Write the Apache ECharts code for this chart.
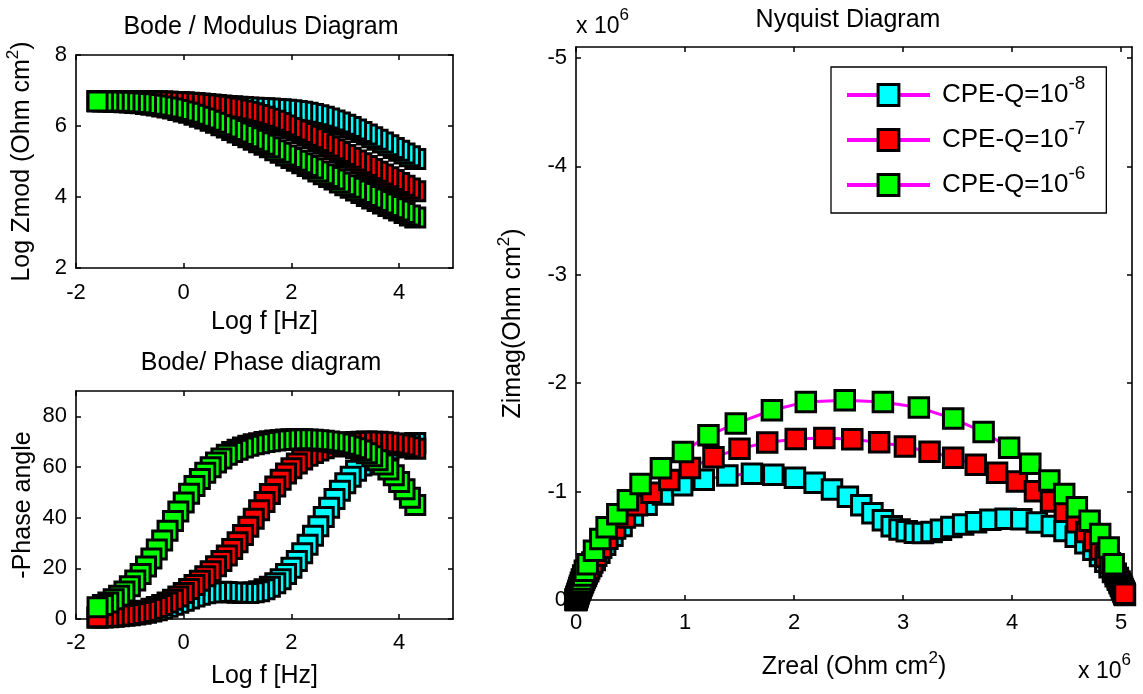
<!DOCTYPE html>
<html><head><meta charset="utf-8">
<script src="https://cdn.jsdelivr.net/npm/echarts@6/dist/echarts.min.js"></script>
<style>html,body{margin:0;padding:0;background:#fff}#c{width:1143px;height:694px}</style>
</head><body><div id="c"></div>
<script>
// ---------- data ----------
const seriesNames = ['CPE-Q=10^-8', 'CPE-Q=10^-7', 'CPE-Q=10^-6'];
const fillColors = ['#00ffff', '#ff0000', '#00ff00'];

const logF = [4.3,4.2,4.1,4.0,3.9,3.8,3.7,3.6,3.5,3.4,3.3,3.2,3.1,3.0,2.9,2.8,2.7,2.6,2.5,2.4,2.3,2.2,2.1,2.0,1.9,1.8,1.7,1.6,1.5,1.4,1.3,1.2,1.1,1.0,0.9,0.8,0.7,0.6,0.5,0.4,0.3,0.2,0.1,0.0,-0.1,-0.2,-0.3,-0.4,-0.5,-0.6,-0.7,-0.8,-0.9,-1.0,-1.1,-1.2,-1.3,-1.4,-1.5,-1.6];

const cyanLogZmod = [5.067,5.146,5.224,5.302,5.380,5.458,5.535,5.611,5.686,5.760,5.833,5.903,5.972,6.038,6.100,6.158,6.212,6.260,6.303,6.341,6.373,6.400,6.423,6.441,6.457,6.470,6.481,6.490,6.499,6.507,6.515,6.523,6.532,6.542,6.553,6.565,6.578,6.592,6.606,6.620,6.633,6.645,6.656,6.665,6.672,6.678,6.683,6.687,6.691,6.693,6.695,6.697,6.698,6.699,6.700,6.700,6.701,6.701,6.702,6.702];
const redLogZmod = [4.164,4.241,4.319,4.397,4.476,4.554,4.633,4.712,4.791,4.870,4.949,5.028,5.107,5.186,5.265,5.343,5.421,5.499,5.576,5.652,5.728,5.802,5.875,5.947,6.016,6.082,6.146,6.205,6.261,6.312,6.358,6.399,6.435,6.468,6.497,6.523,6.547,6.568,6.588,6.606,6.622,6.636,6.649,6.659,6.667,6.674,6.680,6.684,6.688,6.691,6.693,6.695,6.697,6.698,6.699,6.700,6.700,6.701,6.701,6.702];
const greenLogZmod = [3.42,3.48,3.55,3.62,3.68,3.75,3.82,3.89,3.96,4.03,4.11,4.18,4.26,4.33,4.41,4.49,4.56,4.64,4.72,4.80,4.87,4.95,5.02,5.10,5.17,5.25,5.32,5.40,5.47,5.54,5.61,5.68,5.75,5.82,5.89,5.96,6.02,6.09,6.15,6.21,6.26,6.32,6.37,6.41,6.45,6.49,6.52,6.55,6.58,6.60,6.62,6.64,6.65,6.66,6.67,6.68,6.68,6.69,6.69,6.69];

const cyanPhase = [69.5,69.2,68.8,68.3,67.8,67.0,66.1,65.0,63.8,62.3,60.6,58.5,56.2,53.6,50.6,47.4,43.9,40.3,36.6,32.9,29.3,26.0,22.9,20.2,17.8,15.7,14.1,12.7,11.7,11.0,10.6,10.3,10.3,10.4,10.5,10.7,10.8,10.7,10.5,10.2,9.6,8.9,8.1,7.2,6.4,5.6,4.8,4.1,3.5,3.0,2.5,2.1,1.8,1.5,1.3,1.1,0.9,0.7,0.6,0.5];
const redPhase = [67.2,67.8,68.5,68.9,69.3,69.6,69.8,70.0,70.0,70.1,70.0,69.9,69.7,69.4,69.0,68.6,68.1,67.4,66.5,65.5,64.4,63.0,61.4,59.5,57.4,55.0,52.3,49.3,46.2,42.9,39.6,36.4,33.2,30.3,27.6,25.1,22.9,20.8,18.8,16.9,15.1,13.4,11.8,10.3,8.9,7.6,6.5,5.5,4.7,4.0,3.3,2.8,2.3,2.0,1.6,1.4,1.1,0.9,0.8,0.7];
const greenPhase = [45.0,47.9,51.2,54.1,56.7,59.0,61.0,62.7,64.2,65.4,66.5,67.4,68.1,68.8,69.3,69.8,70.1,70.4,70.6,70.8,70.9,71.0,71.0,71.0,70.9,70.7,70.5,70.2,69.9,69.4,69.0,68.4,67.7,66.8,65.9,64.8,63.4,61.8,59.9,57.7,55.3,52.5,49.4,46.0,42.4,38.7,34.8,31.0,27.4,23.9,20.7,17.8,15.2,12.9,10.9,9.2,7.8,6.5,5.5,4.6];

// Nyquist, in units of 1e6 Ohm cm2
const cyanZreal = [0.0409,0.0496,0.0605,0.0740,0.0908,0.1121,0.1386,0.1721,0.2144,0.2675,0.3342,0.4180,0.5215,0.6474,0.7981,0.9737,1.1720,1.3882,1.6138,1.8100,2.0080,2.1890,2.3480,2.4940,2.6170,2.7190,2.8150,2.8960,2.9680,3.0340,3.1080,3.1820,3.2620,3.3480,3.4430,3.5510,3.6700,3.8010,3.9410,4.0850,4.2270,4.3646,4.4809,4.5839,4.6722,4.7459,4.8065,4.8556,4.8947,4.9259,4.9506,4.9704,4.9859,4.9985,5.0084,5.0163,5.0227,5.0279,5.0320,5.0355];
const cyanZimag = [-0.1092,-0.1307,-0.1561,-0.1863,-0.2220,-0.2642,-0.3131,-0.3699,-0.4352,-0.5094,-0.5924,-0.6827,-0.7788,-0.8773,-0.9727,-1.0591,-1.1100,-1.1480,-1.1640,-1.1560,-1.1270,-1.0810,-1.0200,-0.9519,-0.8731,-0.7993,-0.7348,-0.6811,-0.6510,-0.6330,-0.6200,-0.6180,-0.6280,-0.6470,-0.6730,-0.6960,-0.7180,-0.7390,-0.7490,-0.7450,-0.7157,-0.6822,-0.6364,-0.5824,-0.5240,-0.4643,-0.4063,-0.3521,-0.3026,-0.2584,-0.2195,-0.1857,-0.1566,-0.1315,-0.1104,-0.0925,-0.0774,-0.0647,-0.0540,-0.0451];
const redZreal = [0.0057,0.0066,0.0076,0.0090,0.0106,0.0125,0.0148,0.0177,0.0211,0.0253,0.0305,0.0367,0.0445,0.0540,0.0658,0.0803,0.0985,0.1214,0.1498,0.1858,0.2310,0.2879,0.3591,0.4486,0.5591,0.6938,0.8557,1.0453,1.2613,1.5000,1.7539,2.0156,2.2781,2.5343,2.7810,3.0173,3.2432,3.4598,3.6670,3.8623,4.0442,4.2101,4.3572,4.4842,4.5920,4.6809,4.7536,4.8125,4.8595,4.8970,4.9270,4.9509,4.9698,4.9853,4.9974,5.0073,5.0152,5.0216,5.0269,5.0312];
const redZimag = [-0.0134,-0.0161,-0.0194,-0.0233,-0.0280,-0.0336,-0.0404,-0.0484,-0.0581,-0.0697,-0.0836,-0.1002,-0.1200,-0.1437,-0.1717,-0.2050,-0.2444,-0.2910,-0.3454,-0.4086,-0.4815,-0.5648,-0.6587,-0.7618,-0.8731,-0.9894,-1.1060,-1.2168,-1.3157,-1.3958,-1.4531,-1.4851,-1.4935,-1.4814,-1.4540,-1.4149,-1.3668,-1.3112,-1.2474,-1.1745,-1.0928,-1.0037,-0.9092,-0.8130,-0.7180,-0.6273,-0.5431,-0.4667,-0.3984,-0.3384,-0.2863,-0.2415,-0.2031,-0.1703,-0.1427,-0.1194,-0.0998,-0.0834,-0.0696,-0.0580];
const greenZreal = [0.0002,0.0002,0.00025,0.0003,0.0004,0.0005,0.0006,0.0007,0.0009,0.0010,0.0013,0.0015,0.0018,0.0022,0.0026,0.0031,0.0038,0.0046,0.0055,0.0067,0.0080,0.0097,0.0117,0.0141,0.0171,0.0206,0.0249,0.0302,0.0366,0.0445,0.0540,0.0660,0.0810,0.107,0.165,0.223,0.281,0.379,0.476,0.592,0.779,0.981,1.215,1.466,1.797,2.108,2.465,2.815,3.145,3.460,3.739,3.973,4.167,4.342,4.478,4.594,4.711,4.808,4.886,4.932];
const greenZimag = [-0.0008,-0.0010,-0.0012,-0.0014,-0.0016,-0.0019,-0.0024,-0.0028,-0.0034,-0.0040,-0.0049,-0.0059,-0.0070,-0.0084,-0.0100,-0.0120,-0.0150,-0.0180,-0.0210,-0.0250,-0.0310,-0.0370,-0.0440,-0.0530,-0.0630,-0.0760,-0.0910,-0.1100,-0.1310,-0.1580,-0.1890,-0.2260,-0.2700,-0.330,-0.454,-0.562,-0.670,-0.790,-0.920,-1.070,-1.216,-1.364,-1.519,-1.627,-1.750,-1.827,-1.843,-1.827,-1.775,-1.673,-1.549,-1.404,-1.256,-1.102,-0.978,-0.855,-0.731,-0.608,-0.485,-0.330];

// tick labels
const freqTicks = [-2, 0, 2, 4];
const modTicks = [2, 4, 6, 8];
const phaseTicks = [0, 20, 40, 60, 80];
const zrealTicks = [0, 1, 2, 3, 4, 5];
const zimagTicks = [-5, -4, -3, -2, -1, 0];

// ---------- chart ----------
const FONT = "'Liberation Sans', Arial, Helvetica, sans-serif";
const chart = echarts.init(document.getElementById('c'), null, {renderer: 'canvas'});

function supRich(base, lh, sup, slh) {
  return {
    a: {fontSize: base, lineHeight: lh, fontFamily: FONT, color: '#000'},
    s: {fontSize: sup, lineHeight: slh, verticalAlign: 'top', fontFamily: FONT, color: '#000'}
  };
}

function axis(gridIndex, min, max, ticks, position, labelled, extra) {
  const ax = {
    type: 'value', gridIndex, min, max, position,
    axisLine: {show: true, onZero: false, lineStyle: {color: '#000', width: 1.6}},
    axisTick: {show: true, inside: true, length: 5, customValues: ticks, lineStyle: {color: '#000', width: 1.5}},
    axisLabel: {show: labelled, customValues: ticks, color: '#000', fontSize: 22, fontFamily: FONT, lineHeight: 24, margin: 10},
    splitLine: {show: false}
  };
  return Object.assign(ax, extra || {});
}

const nameStyle = {fontSize: 25, color: '#000', fontFamily: FONT, lineHeight: 30, rich: supRich(25, 34, 17, 17)};

const xAxes = [
  axis(0, -2, 5, freqTicks, 'bottom', true, {name: 'Log f [Hz]', nameLocation: 'middle', nameGap: 39, nameTextStyle: nameStyle}),
  axis(0, -2, 5, freqTicks, 'top', false),
  axis(1, -2, 5, freqTicks, 'bottom', true, {name: 'Log f [Hz]', nameLocation: 'middle', nameGap: 42, nameTextStyle: nameStyle}),
  axis(1, -2, 5, freqTicks, 'top', false),
  axis(2, 0, 5.1, zrealTicks, 'bottom', true, {name: '{a|Zreal (Ohm cm}{s|2}{a|)}', nameLocation: 'middle', nameGap: 50, nameTextStyle: nameStyle}),
  axis(2, 0, 5.1, zrealTicks, 'top', false)
];
xAxes[0].axisLabel.margin = 13;
xAxes[2].axisLabel.margin = 12;
xAxes[4].axisLabel.margin = 11;

const yAxes = [
  axis(0, 2, 8, modTicks, 'left', true, {name: '{a|Log Zmod (Ohm cm}{s|2}{a|)}', nameLocation: 'middle', nameGap: 37, nameTextStyle: nameStyle}),
  axis(0, 2, 8, modTicks, 'right', false),
  axis(1, 0, 90, phaseTicks, 'left', true, {name: '-Phase angle', nameLocation: 'middle', nameGap: 38, nameTextStyle: nameStyle}),
  axis(1, 0, 90, phaseTicks, 'right', false),
  axis(2, -5.1, 0, zimagTicks, 'left', true, {inverse: true, name: '{a|Zimag(Ohm cm}{s|2}{a|)}', nameLocation: 'middle', nameGap: 46, nameTextStyle: nameStyle}),
  axis(2, -5.1, 0, zimagTicks, 'right', false, {inverse: true})
];
yAxes.forEach(a => { a.axisLabel.margin = 9; });

function mk(idx, xi, yi, xs, ys, size) {
  return {
    type: 'line', name: seriesNames[idx], xAxisIndex: xi, yAxisIndex: yi,
    data: xs.map((x, i) => [x, ys[i]]),
    symbol: 'rect', symbolSize: size, showSymbol: true, showAllSymbol: true,
    lineStyle: {color: '#ff00ff', width: 3},
    itemStyle: {color: fillColors[idx], borderColor: '#000', borderWidth: 3, opacity: 1},
    emphasis: {disabled: true}, animation: false, clip: false, silent: true
  };
}

const mods = [cyanLogZmod, redLogZmod, greenLogZmod];
const phases = [cyanPhase, redPhase, greenPhase];
const zre = [cyanZreal, redZreal, greenZreal];
const zim = [cyanZimag, redZimag, greenZimag];
const series = [];
for (let k = 0; k < 3; k++) series.push(mk(k, 0, 0, logF, mods[k], 19));
for (let k = 0; k < 3; k++) series.push(mk(k, 2, 2, logF, phases[k], 19));
for (let k = 0; k < 3; k++) series.push(mk(k, 4, 4, zre[k], zim[k], 19.5));

const titleStyle = {fontSize: 25, fontWeight: 'normal', color: '#000', fontFamily: FONT, lineHeight: 30};
const expRich = supRich(23, 40, 17, 17);

const option = {
  backgroundColor: '#fff',
  animation: false,
  title: [
    {text: 'Bode / Modulus Diagram', left: 261, top: 12, textAlign: 'center', padding: 0, textStyle: titleStyle},
    {text: 'Bode/ Phase diagram', left: 261, top: 348, textAlign: 'center', padding: 0, textStyle: titleStyle},
    {text: 'Nyquist Diagram', left: 848, top: 5, textAlign: 'center', padding: 0, textStyle: titleStyle},
    {text: '{a|x 10}{s|6}', left: 576, top: 7, padding: 0, textStyle: {fontSize: 23, fontWeight: 'normal', fontFamily: FONT, rich: expRich}},
    {text: '{a|x 10}{s|6}', left: 1078, top: 652, padding: 0, textStyle: {fontSize: 23, fontWeight: 'normal', fontFamily: FONT, rich: expRich}}
  ],
  legend: {
    data: seriesNames, orient: 'vertical', left: 831, top: 67,
    itemWidth: 83, itemHeight: 26, itemGap: 11,
    padding: [7, 21, 15, 14], borderColor: '#000', borderWidth: 1.3, backgroundColor: '#fff',
    selectedMode: false,
    lineStyle: {width: 4, color: '#ff00ff'},
    itemStyle: {borderWidth: 3, borderColor: '#000'},
    textStyle: {fontSize: 26, color: '#000', fontFamily: FONT, rich: {
      a: {fontSize: 26, lineHeight: 42, padding: [0, 0, 0, 7], fontFamily: FONT, color: '#000'},
      s: {fontSize: 19, lineHeight: 19, verticalAlign: 'top', fontFamily: FONT, color: '#000'}
    }},
    formatter: function (name) { const p = name.split('^'); return '{a|' + p[0] + '}{s|' + p[1] + '}'; }
  },
  grid: [
    {left: 76, top: 55, width: 377, height: 213},
    {left: 76, top: 391, width: 377, height: 228},
    {left: 576, top: 47, width: 556, height: 553}
  ],
  xAxis: xAxes,
  yAxis: yAxes,
  series: series
};
chart.setOption(option);
</script></body></html>
